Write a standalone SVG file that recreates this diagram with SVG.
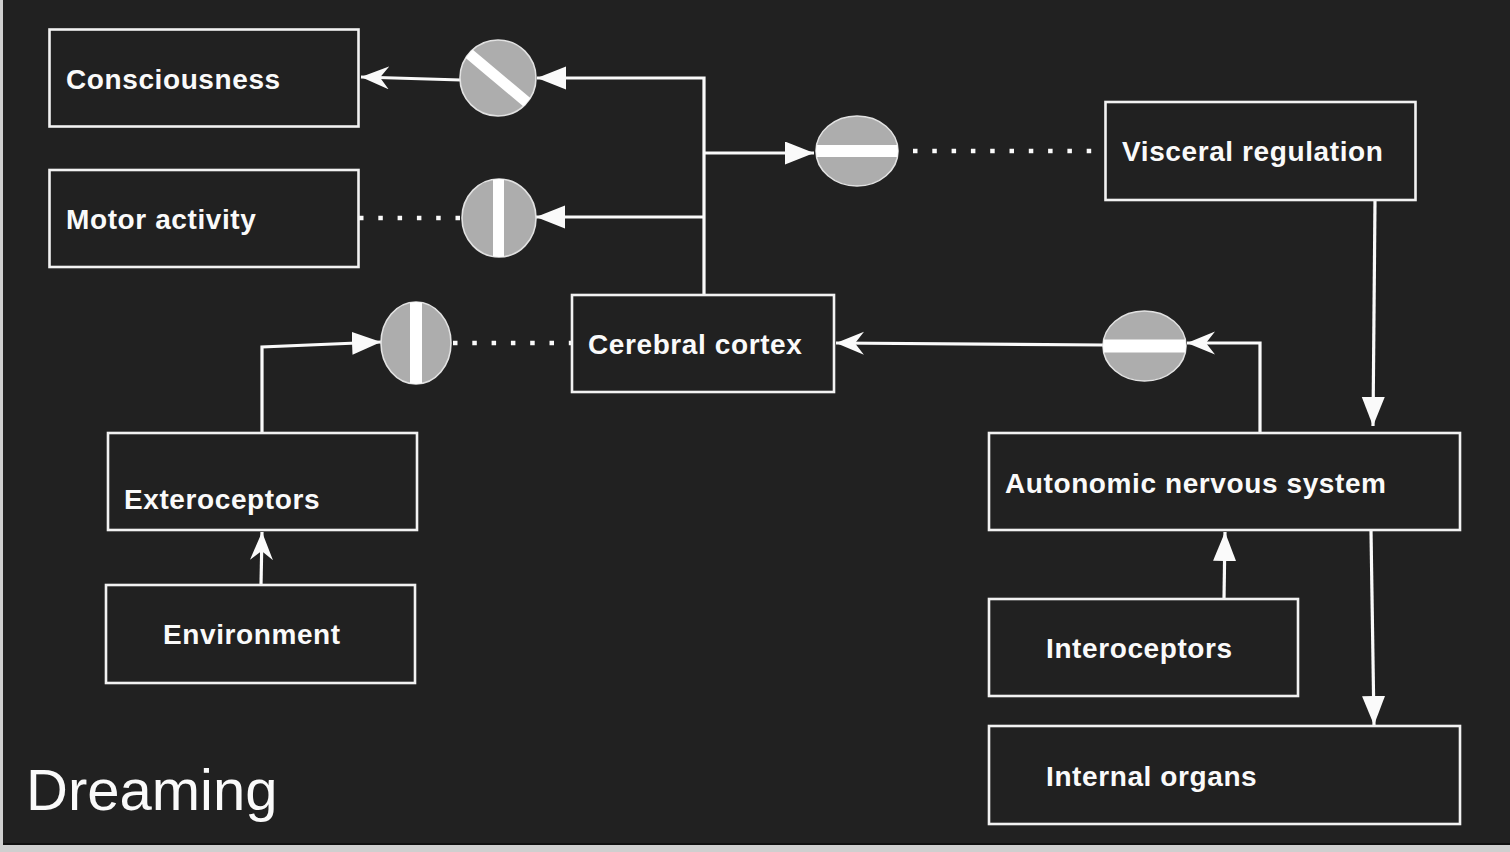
<svg xmlns="http://www.w3.org/2000/svg" width="1510" height="852" viewBox="0 0 1510 852">
<style>
.box{fill:none;stroke:#f2f2f2;stroke-width:2.6}
.lbl{font-family:"Liberation Sans",Arial,sans-serif;font-weight:bold;font-size:28px;fill:#fafafa;letter-spacing:0.6px}
.title{font-family:"Liberation Sans",Arial,sans-serif;font-size:58px;fill:#fafafa}
.ln{fill:none;stroke:#fafafa;stroke-width:3.2}
.dot{fill:none;stroke:#fafafa;stroke-width:4.5;stroke-dasharray:4.5 14.8}
.gate{fill:#adadad;stroke:#e2e2e2;stroke-width:1.6}
.band{fill:#ffffff}
</style>
<defs>
<marker id="tri" markerUnits="userSpaceOnUse" markerWidth="30" markerHeight="24" refX="29" refY="11.5" orient="auto">
<path d="M0,0 L29,11.5 L0,23 Z" fill="#fafafa"/>
</marker>
<marker id="barb" markerUnits="userSpaceOnUse" markerWidth="30" markerHeight="24" refX="28" refY="11.5" orient="auto">
<path d="M0,0 L28,11.5 L0,23 L9,11.5 Z" fill="#fafafa"/>
</marker>
<clipPath id="cg1"><ellipse cx="498" cy="78" rx="38" ry="38"/></clipPath>
<clipPath id="cg2"><ellipse cx="499" cy="218" rx="37" ry="39"/></clipPath>
<clipPath id="cg3"><ellipse cx="857" cy="151" rx="41" ry="35"/></clipPath>
<clipPath id="cg4"><ellipse cx="416" cy="343" rx="35" ry="41"/></clipPath>
<clipPath id="cg5"><ellipse cx="1144.5" cy="346" rx="41.5" ry="35"/></clipPath>
</defs>
<rect x="0" y="0" width="1510" height="852" fill="#cfcfcf"/>
<rect x="3" y="0" width="1507" height="845" fill="#212121"/>
<rect x="3" y="843" width="1507" height="2" fill="#111111"/>

<g id="connectors">
<path class="ln" d="M704,295 V78 H537" marker-end="url(#tri)"/>
<path class="ln" d="M704,153 H814" marker-end="url(#tri)"/>
<path class="ln" d="M704,217 H536" marker-end="url(#tri)"/>
<path class="ln" d="M461,80 L361,77" marker-end="url(#barb)"/>
<path class="dot" d="M359,218 H462"/>
<path class="dot" d="M913,151 H1105"/>
<path class="ln" d="M1375,200 L1373,426" marker-end="url(#tri)"/>
<path class="ln" d="M1260,433 V343 H1187" marker-end="url(#barb)"/>
<path class="ln" d="M1103,345 L836,343" marker-end="url(#barb)"/>
<path class="dot" d="M453,343 H572"/>
<path class="ln" d="M262,433 V347 L381,342" marker-end="url(#tri)"/>
<path class="ln" d="M261,585 L262,532" marker-end="url(#barb)"/>
<path class="ln" d="M1224,599 L1225,532" marker-end="url(#tri)"/>
<path class="ln" d="M1371,531 L1374,725" marker-end="url(#tri)"/>
</g>

<g id="gate-consciousness">
<ellipse class="gate" cx="498" cy="78" rx="38" ry="38"/>
<line x1="452" y1="39.4" x2="544" y2="116.6" stroke="#fff" stroke-width="11" clip-path="url(#cg1)"/>
</g>
<g id="gate-motor">
<ellipse class="gate" cx="499" cy="218" rx="37" ry="39"/>
<rect class="band" x="493" y="175" width="11" height="86" clip-path="url(#cg2)"/>
</g>
<g id="gate-visceral">
<ellipse class="gate" cx="857" cy="151" rx="41" ry="35"/>
<rect class="band" x="812" y="145" width="90" height="12" clip-path="url(#cg3)"/>
</g>
<g id="gate-extero">
<ellipse class="gate" cx="416" cy="343" rx="35" ry="41"/>
<rect class="band" x="410" y="298" width="12" height="90" clip-path="url(#cg4)"/>
</g>
<g id="gate-ans">
<ellipse class="gate" cx="1144.5" cy="346" rx="41.5" ry="35"/>
<rect class="band" x="1100" y="339.5" width="90" height="13" clip-path="url(#cg5)"/>
</g>

<g id="consciousness">
<rect class="box" x="49.5" y="29.5" width="309" height="97"/>
<text class="lbl" x="66" y="89">Consciousness</text>
</g>
<g id="motor-activity">
<rect class="box" x="49.5" y="170" width="309" height="97"/>
<text class="lbl" x="66" y="229">Motor activity</text>
</g>
<g id="cerebral-cortex">
<rect class="box" x="572" y="295" width="262" height="97"/>
<text class="lbl" x="588" y="354">Cerebral cortex</text>
</g>
<g id="visceral-regulation">
<rect class="box" x="1105.5" y="102" width="310" height="98"/>
<text class="lbl" x="1122" y="161">Visceral regulation</text>
</g>
<g id="exteroceptors">
<rect class="box" x="108" y="433" width="309" height="97"/>
<text class="lbl" x="124" y="509">Exteroceptors</text>
</g>
<g id="environment">
<rect class="box" x="106" y="585" width="309" height="98"/>
<text class="lbl" x="163" y="644">Environment</text>
</g>
<g id="autonomic-nervous-system">
<rect class="box" x="989" y="433" width="471" height="97"/>
<text class="lbl" x="1005" y="493">Autonomic nervous system</text>
</g>
<g id="interoceptors">
<rect class="box" x="989" y="599" width="309" height="97"/>
<text class="lbl" x="1046" y="658">Interoceptors</text>
</g>
<g id="internal-organs">
<rect class="box" x="989" y="726" width="471" height="98"/>
<text class="lbl" x="1046" y="786">Internal organs</text>
</g>
<text class="title" x="26" y="810">Dreaming</text>
</svg>
